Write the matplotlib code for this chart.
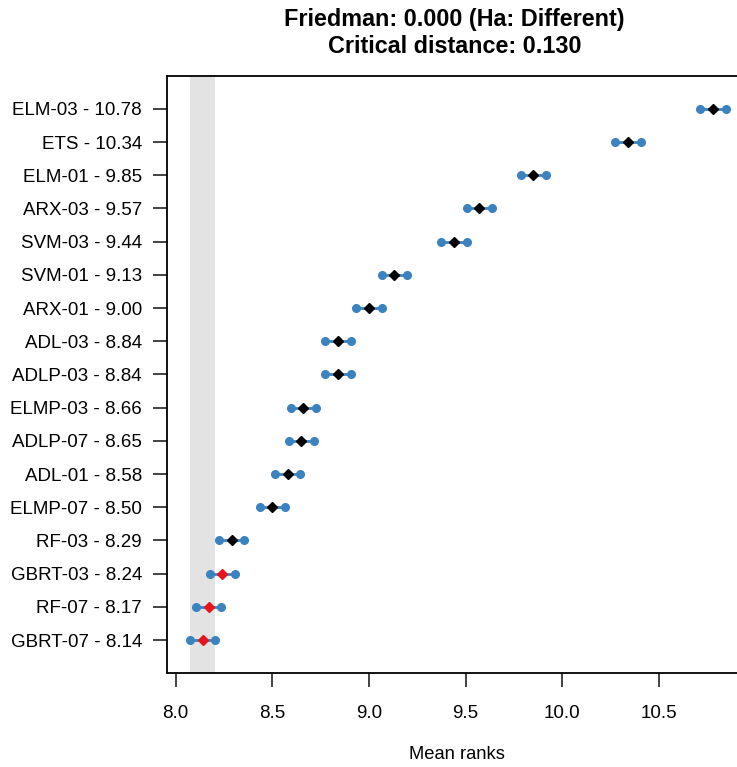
import numpy as np
from matplotlib import pyplot as plt

plt.rcParams['font.family'] = ['Liberation Sans', 'DejaVu Sans']

# methods and mean ranks, top to bottom as in the chart
methods = ["ELM-03", "ETS", "ELM-01", "ARX-03", "SVM-03", "SVM-01", "ARX-01",
           "ADL-03", "ADLP-03", "ELMP-03", "ADLP-07", "ADL-01", "ELMP-07",
           "RF-03", "GBRT-03", "RF-07", "GBRT-07"]
ranks = [10.78, 10.34, 9.85, 9.57, 9.44, 9.13, 9.00, 8.84, 8.84, 8.66, 8.65,
         8.58, 8.50, 8.29, 8.24, 8.17, 8.14]
cd = 0.130
friedman_p = 0.000

ranks = np.array(ranks)
n = len(ranks)
ypos = np.arange(n, 0, -1)
best = ranks.min()

fig = plt.figure(figsize=(7.37, 7.67), dpi=100)
ax = fig.add_axes([0.2266, 0.1222, 0.787, 0.7791])

# critical distance band around the best method
ax.axvspan(best - cd / 2, best + cd / 2, color="#e3e3e3", zorder=0, lw=0)

blue = "#3b82c0"
for r, y in zip(ranks, ypos):
    ax.plot([r - cd / 2, r + cd / 2], [y, y], color=blue, lw=2, zorder=2)
    ax.plot([r - cd / 2, r + cd / 2], [y, y], "o", color=blue, ms=5.5, zorder=3)
    col = "#e8141c" if r - best < cd else "black"
    ax.plot(r, y, "D", color=col, ms=4.8, zorder=4)

ax.set_xlim(7.955, 10.956)
ax.set_ylim(0, n + 1)
ax.set_yticks(ypos)
ax.set_yticklabels(["%s - %.2f" % (m, r) for m, r in zip(methods, ranks)])
ax.set_xticks([8.0, 8.5, 9.0, 9.5, 10.0, 10.5])
ax.set_xticklabels(["8.0", "8.5", "9.0", "9.5", "10.0", "10.5"])
ax.tick_params(axis="both", direction="out", length=10, width=1.2,
               labelsize=13.5, colors="#222222", labelcolor="black")
ax.tick_params(axis="x", pad=13)
ax.tick_params(axis="y", pad=8)
for s in ax.spines.values():
    s.set_linewidth(1.3)
ax.set_xlabel("Mean ranks", fontsize=13.2, labelpad=17)

fig.text(0.617, 0.975, "Friedman: %.3f (Ha: Different)" % friedman_p,
         ha="center", va="center", fontsize=16.8, fontweight="bold")
fig.text(0.617, 0.940, "Critical distance: %.3f" % cd,
         ha="center", va="center", fontsize=16.8, fontweight="bold")

fig.savefig("out.png", dpi=100)
